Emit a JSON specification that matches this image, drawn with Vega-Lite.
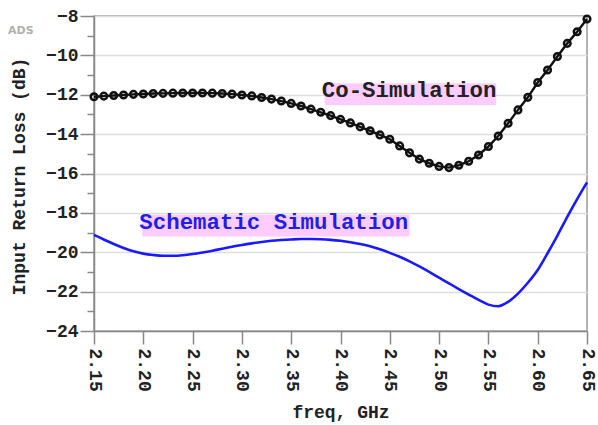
{
  "$schema": "https://vega.github.io/schema/vega-lite/v6.json",
  "width": 493,
  "height": 315,
  "autosize": {"type": "none"},
  "padding": {"left": 94, "top": 16, "right": 11, "bottom": 94},
  "background": "white",
  "title": {
    "text": "ADS",
    "anchor": "start",
    "orient": "top",
    "frame": "group",
    "offset": 0,
    "dx": -86,
    "dy": 38,
    "baseline": "alphabetic",
    "font": "DejaVu Sans",
    "fontSize": 11,
    "fontWeight": "bold",
    "color": "#b0b0b0"
  },
  "config": {
    "view": {"stroke": "#999999", "strokeWidth": 1.5},
    "axis": {
      "labelFont": "Liberation Mono",
      "labelFontWeight": "bold",
      "labelFontSize": 18,
      "labelColor": "#222222",
      "titleFont": "Liberation Mono",
      "titleFontWeight": "bold",
      "titleFontSize": 18,
      "titleColor": "#222222",
      "domainColor": "#888888",
      "domainWidth": 1.5,
      "tickColor": "#888888",
      "tickWidth": 1.5,
      "gridColor": "#dddddd",
      "gridWidth": 1.5
    }
  },
  "resolve": {"axis": {"y": "independent"}},
  "datasets": {
    "curves": [
      {"freq": 2.15, "loss": -12.10, "series": "Co-Simulation"},
      {"freq": 2.16, "loss": -12.07, "series": "Co-Simulation"},
      {"freq": 2.17, "loss": -12.04, "series": "Co-Simulation"},
      {"freq": 2.18, "loss": -12.01, "series": "Co-Simulation"},
      {"freq": 2.19, "loss": -11.98, "series": "Co-Simulation"},
      {"freq": 2.20, "loss": -11.96, "series": "Co-Simulation"},
      {"freq": 2.21, "loss": -11.94, "series": "Co-Simulation"},
      {"freq": 2.22, "loss": -11.93, "series": "Co-Simulation"},
      {"freq": 2.23, "loss": -11.92, "series": "Co-Simulation"},
      {"freq": 2.24, "loss": -11.91, "series": "Co-Simulation"},
      {"freq": 2.25, "loss": -11.91, "series": "Co-Simulation"},
      {"freq": 2.26, "loss": -11.91, "series": "Co-Simulation"},
      {"freq": 2.27, "loss": -11.92, "series": "Co-Simulation"},
      {"freq": 2.28, "loss": -11.94, "series": "Co-Simulation"},
      {"freq": 2.29, "loss": -11.97, "series": "Co-Simulation"},
      {"freq": 2.30, "loss": -12.01, "series": "Co-Simulation"},
      {"freq": 2.31, "loss": -12.06, "series": "Co-Simulation"},
      {"freq": 2.32, "loss": -12.14, "series": "Co-Simulation"},
      {"freq": 2.33, "loss": -12.22, "series": "Co-Simulation"},
      {"freq": 2.34, "loss": -12.32, "series": "Co-Simulation"},
      {"freq": 2.35, "loss": -12.44, "series": "Co-Simulation"},
      {"freq": 2.36, "loss": -12.57, "series": "Co-Simulation"},
      {"freq": 2.37, "loss": -12.73, "series": "Co-Simulation"},
      {"freq": 2.38, "loss": -12.89, "series": "Co-Simulation"},
      {"freq": 2.39, "loss": -13.06, "series": "Co-Simulation"},
      {"freq": 2.40, "loss": -13.25, "series": "Co-Simulation"},
      {"freq": 2.41, "loss": -13.43, "series": "Co-Simulation"},
      {"freq": 2.42, "loss": -13.63, "series": "Co-Simulation"},
      {"freq": 2.43, "loss": -13.83, "series": "Co-Simulation"},
      {"freq": 2.44, "loss": -14.04, "series": "Co-Simulation"},
      {"freq": 2.45, "loss": -14.26, "series": "Co-Simulation"},
      {"freq": 2.46, "loss": -14.60, "series": "Co-Simulation"},
      {"freq": 2.47, "loss": -14.95, "series": "Co-Simulation"},
      {"freq": 2.48, "loss": -15.27, "series": "Co-Simulation"},
      {"freq": 2.49, "loss": -15.48, "series": "Co-Simulation"},
      {"freq": 2.50, "loss": -15.64, "series": "Co-Simulation"},
      {"freq": 2.51, "loss": -15.70, "series": "Co-Simulation"},
      {"freq": 2.52, "loss": -15.58, "series": "Co-Simulation"},
      {"freq": 2.53, "loss": -15.38, "series": "Co-Simulation"},
      {"freq": 2.54, "loss": -15.06, "series": "Co-Simulation"},
      {"freq": 2.55, "loss": -14.63, "series": "Co-Simulation"},
      {"freq": 2.56, "loss": -14.10, "series": "Co-Simulation"},
      {"freq": 2.57, "loss": -13.45, "series": "Co-Simulation"},
      {"freq": 2.58, "loss": -12.77, "series": "Co-Simulation"},
      {"freq": 2.59, "loss": -12.13, "series": "Co-Simulation"},
      {"freq": 2.60, "loss": -11.38, "series": "Co-Simulation"},
      {"freq": 2.61, "loss": -10.74, "series": "Co-Simulation"},
      {"freq": 2.62, "loss": -10.06, "series": "Co-Simulation"},
      {"freq": 2.63, "loss": -9.39, "series": "Co-Simulation"},
      {"freq": 2.64, "loss": -8.80, "series": "Co-Simulation"},
      {"freq": 2.65, "loss": -8.15, "series": "Co-Simulation"},
      {"freq": 2.15, "loss": -19.12, "series": "Schematic"},
      {"freq": 2.16, "loss": -19.35, "series": "Schematic"},
      {"freq": 2.17, "loss": -19.58, "series": "Schematic"},
      {"freq": 2.18, "loss": -19.78, "series": "Schematic"},
      {"freq": 2.19, "loss": -19.95, "series": "Schematic"},
      {"freq": 2.20, "loss": -20.07, "series": "Schematic"},
      {"freq": 2.21, "loss": -20.14, "series": "Schematic"},
      {"freq": 2.22, "loss": -20.18, "series": "Schematic"},
      {"freq": 2.23, "loss": -20.18, "series": "Schematic"},
      {"freq": 2.24, "loss": -20.15, "series": "Schematic"},
      {"freq": 2.25, "loss": -20.09, "series": "Schematic"},
      {"freq": 2.26, "loss": -20.01, "series": "Schematic"},
      {"freq": 2.27, "loss": -19.92, "series": "Schematic"},
      {"freq": 2.28, "loss": -19.82, "series": "Schematic"},
      {"freq": 2.29, "loss": -19.72, "series": "Schematic"},
      {"freq": 2.30, "loss": -19.63, "series": "Schematic"},
      {"freq": 2.31, "loss": -19.55, "series": "Schematic"},
      {"freq": 2.32, "loss": -19.48, "series": "Schematic"},
      {"freq": 2.33, "loss": -19.42, "series": "Schematic"},
      {"freq": 2.34, "loss": -19.38, "series": "Schematic"},
      {"freq": 2.35, "loss": -19.35, "series": "Schematic"},
      {"freq": 2.36, "loss": -19.33, "series": "Schematic"},
      {"freq": 2.37, "loss": -19.33, "series": "Schematic"},
      {"freq": 2.38, "loss": -19.34, "series": "Schematic"},
      {"freq": 2.39, "loss": -19.37, "series": "Schematic"},
      {"freq": 2.40, "loss": -19.42, "series": "Schematic"},
      {"freq": 2.41, "loss": -19.49, "series": "Schematic"},
      {"freq": 2.42, "loss": -19.58, "series": "Schematic"},
      {"freq": 2.43, "loss": -19.70, "series": "Schematic"},
      {"freq": 2.44, "loss": -19.85, "series": "Schematic"},
      {"freq": 2.45, "loss": -20.03, "series": "Schematic"},
      {"freq": 2.46, "loss": -20.23, "series": "Schematic"},
      {"freq": 2.47, "loss": -20.46, "series": "Schematic"},
      {"freq": 2.48, "loss": -20.72, "series": "Schematic"},
      {"freq": 2.49, "loss": -21.00, "series": "Schematic"},
      {"freq": 2.50, "loss": -21.29, "series": "Schematic"},
      {"freq": 2.51, "loss": -21.58, "series": "Schematic"},
      {"freq": 2.52, "loss": -21.87, "series": "Schematic"},
      {"freq": 2.53, "loss": -22.15, "series": "Schematic"},
      {"freq": 2.54, "loss": -22.42, "series": "Schematic"},
      {"freq": 2.55, "loss": -22.66, "series": "Schematic"},
      {"freq": 2.56, "loss": -22.74, "series": "Schematic"},
      {"freq": 2.57, "loss": -22.52, "series": "Schematic"},
      {"freq": 2.58, "loss": -22.10, "series": "Schematic"},
      {"freq": 2.59, "loss": -21.55, "series": "Schematic"},
      {"freq": 2.60, "loss": -20.90, "series": "Schematic"},
      {"freq": 2.61, "loss": -20.05, "series": "Schematic"},
      {"freq": 2.62, "loss": -19.15, "series": "Schematic"},
      {"freq": 2.63, "loss": -18.20, "series": "Schematic"},
      {"freq": 2.64, "loss": -17.30, "series": "Schematic"},
      {"freq": 2.65, "loss": -16.45, "series": "Schematic"}
    ],
    "labels": [
      {"series": "Co-Simulation", "text": "Co-Simulation", "freq": 2.381, "loss": -12.13, "boxFrom": 2.384, "boxTo": 2.558, "boxTop": -11.42, "boxBottom": -12.52},
      {"series": "Schematic", "text": "Schematic Simulation", "freq": 2.196, "loss": -18.83, "boxFrom": 2.199, "boxTo": 2.470, "boxTop": -18.10, "boxBottom": -19.20}
    ]
  },
  "layer": [
    {
      "data": {"name": "labels"},
      "mark": {"type": "rect", "color": "#ffccff"},
      "encoding": {
        "x": {
          "field": "boxFrom",
          "type": "quantitative",
          "scale": {"domain": [2.15, 2.65], "nice": false, "zero": false},
          "axis": {
            "title": "freq, GHz",
            "values": [2.15, 2.2, 2.25, 2.3, 2.35, 2.4, 2.45, 2.5, 2.55, 2.6, 2.65],
            "format": ".2f",
            "grid": false,
            "tickSize": 13,
            "labelAngle": 90,
            "labelAlign": "left",
            "labelBaseline": "middle",
            "labelPadding": 4,
            "labelOverlap": false,
            "labelFlush": false,
            "titleY": 86,
            "titleBaseline": "alphabetic"
          }
        },
        "x2": {"field": "boxTo"},
        "y": {
          "field": "boxTop",
          "type": "quantitative",
          "scale": {"domain": [-24, -8], "nice": false, "zero": false},
          "axis": {
            "title": "Input Return Loss (dB)",
            "values": [-24, -22, -20, -18, -16, -14, -12, -10, -8],
            "labelOverlap": false,
            "labelFlush": false,
            "labelPadding": 2,
            "tickSize": 14,
            "titleX": -70,
            "titleY": 160,
            "titleBaseline": "alphabetic"
          }
        },
        "y2": {"field": "boxBottom"}
      }
    },
    {
      "data": {"name": "curves"},
      "transform": [{"filter": "datum.series === 'Schematic'"}],
      "mark": {"type": "line", "color": "#1a1aff", "strokeWidth": 2.6, "interpolate": "monotone"},
      "encoding": {
        "x": {"field": "freq", "type": "quantitative"},
        "y": {
          "field": "loss",
          "type": "quantitative",
          "axis": {
            "orient": "right",
            "offset": -493,
            "values": [-23, -21, -19, -17, -15, -13, -11, -9],
            "tickSize": -7,
            "labels": false,
            "domain": false,
            "grid": false,
            "title": null
          }
        }
      }
    },
    {
      "data": {"name": "curves"},
      "transform": [{"filter": "datum.series === 'Co-Simulation'"}],
      "mark": {"type": "line", "color": "#111111", "strokeWidth": 2.4},
      "encoding": {
        "x": {"field": "freq", "type": "quantitative"},
        "y": {"field": "loss", "type": "quantitative", "axis": null}
      }
    },
    {
      "data": {"name": "curves"},
      "transform": [{"filter": "datum.series === 'Co-Simulation'"}],
      "mark": {"type": "point", "filled": false, "stroke": "#111111", "strokeWidth": 2.5, "size": 44, "opacity": 1},
      "encoding": {
        "x": {"field": "freq", "type": "quantitative"},
        "y": {"field": "loss", "type": "quantitative", "axis": null}
      }
    },
    {
      "data": {"name": "labels"},
      "mark": {"type": "text", "align": "left", "baseline": "alphabetic", "font": "Liberation Mono", "fontWeight": "bold", "fontSize": 22.4},
      "encoding": {
        "x": {"field": "freq", "type": "quantitative"},
        "y": {"field": "loss", "type": "quantitative", "axis": null},
        "text": {"field": "text"},
        "color": {
          "field": "series",
          "type": "nominal",
          "scale": {"domain": ["Co-Simulation", "Schematic"], "range": ["#222222", "#1f1fe8"]},
          "legend": null
        }
      }
    }
  ]
}
